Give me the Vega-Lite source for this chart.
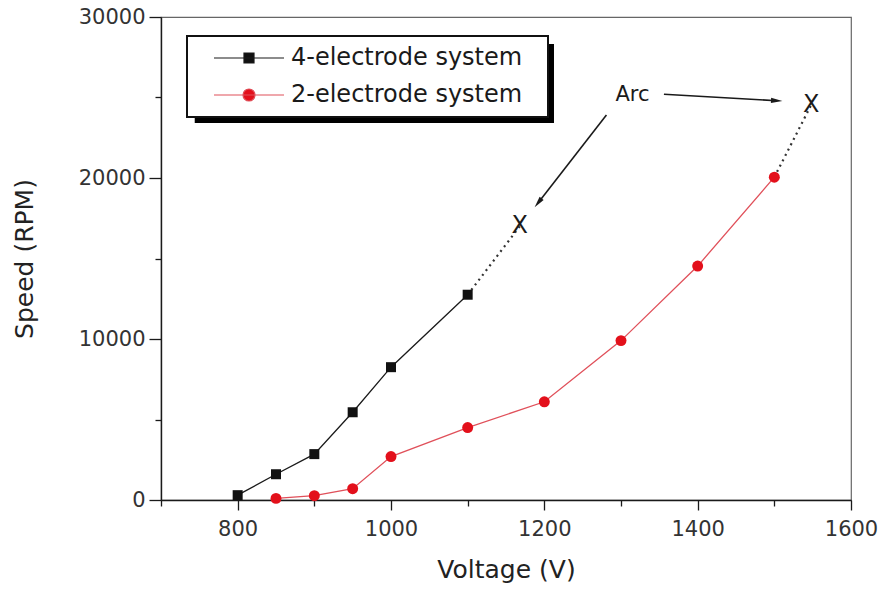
{
  "$schema": "https://vega.github.io/schema/vega-lite/v6.json",
  "width": 690,
  "height": 483,
  "autosize": {"type": "none"},
  "padding": {"left": 161, "top": 17, "right": 35, "bottom": 92},
  "background": "white",
  "config": {
    "font": "DejaVu Sans",
    "view": {"stroke": "#666666", "strokeWidth": 1.2},
    "axis": {
      "grid": false,
      "domainColor": "#1a1a1a",
      "domainWidth": 1.4,
      "tickColor": "#1a1a1a",
      "tickWidth": 1.3,
      "labelFont": "DejaVu Sans",
      "labelFontSize": 21,
      "labelColor": "#333333",
      "titleFont": "DejaVu Sans",
      "titleFontSize": 25,
      "titleFontWeight": "normal",
      "titleColor": "#222222"
    },
    "legend": {
      "orient": "none",
      "legendX": 26,
      "legendY": 19,
      "zindex": 2,
      "fillColor": "white",
      "strokeColor": "#111111",
      "strokeWidth": 2,
      "padding": 10,
      "labelFont": "DejaVu Sans",
      "labelFontSize": 24,
      "labelColor": "#1a1a1a",
      "labelLimit": 400,
      "symbolSize": 100,
      "symbolStrokeWidth": 1.2,
      "symbolOpacity": 1,
      "symbolOffset": 40,
      "labelOffset": 30,
      "rowPadding": 13
    }
  },
  "datasets": {
    "runs": [
      {"system": "4-electrode system", "voltage": 800, "speed": 300},
      {"system": "4-electrode system", "voltage": 850, "speed": 1600},
      {"system": "4-electrode system", "voltage": 900, "speed": 2850},
      {"system": "4-electrode system", "voltage": 950, "speed": 5450},
      {"system": "4-electrode system", "voltage": 1000, "speed": 8250},
      {"system": "4-electrode system", "voltage": 1100, "speed": 12750},
      {"system": "2-electrode system", "voltage": 850, "speed": 100},
      {"system": "2-electrode system", "voltage": 900, "speed": 270},
      {"system": "2-electrode system", "voltage": 950, "speed": 700},
      {"system": "2-electrode system", "voltage": 1000, "speed": 2700},
      {"system": "2-electrode system", "voltage": 1100, "speed": 4500},
      {"system": "2-electrode system", "voltage": 1200, "speed": 6100},
      {"system": "2-electrode system", "voltage": 1300, "speed": 9900},
      {"system": "2-electrode system", "voltage": 1400, "speed": 14530},
      {"system": "2-electrode system", "voltage": 1500, "speed": 20050}
    ],
    "breakdown": [
      {"system": "4-electrode system", "voltage": 1100, "speed": 12750, "point": "last reading"},
      {"system": "4-electrode system", "voltage": 1168, "speed": 17000, "point": "arc"},
      {"system": "2-electrode system", "voltage": 1500, "speed": 20050, "point": "last reading"},
      {"system": "2-electrode system", "voltage": 1548, "speed": 24530, "point": "arc"}
    ]
  },
  "layer": [
    {
      "description": "drop shadow behind the key box",
      "data": {"values": [{}]},
      "mark": {"type": "rect", "fill": "#000000"},
      "encoding": {
        "x": {"datum": 744, "type": "quantitative"},
        "x2": {"datum": 1212.6},
        "y": {"datum": 28323, "type": "quantitative"},
        "y2": {"datum": 23416}
      }
    },
    {
      "data": {"name": "runs"},
      "mark": {"type": "line", "strokeWidth": 1.3},
      "encoding": {
        "x": {
          "field": "voltage",
          "type": "quantitative",
          "scale": {"domain": [700, 1600], "nice": false, "zero": false},
          "axis": {
            "title": "Voltage (V)",
            "values": [700, 800, 900, 1000, 1100, 1200, 1300, 1400, 1500, 1600],
            "format": "d",
            "labelExpr": "datum.value % 200 === 0 ? datum.label : ''",
            "labelFlush": false,
            "labelOverlap": false,
            "tickSize": {"condition": {"test": "datum.value % 200 === 0", "value": 10}, "value": 6},
            "labelPadding": 8,
            "titlePadding": 18
          }
        },
        "y": {
          "field": "speed",
          "type": "quantitative",
          "scale": {"domain": [0, 30000], "nice": false},
          "axis": {
            "title": "Speed (RPM)",
            "values": [0, 5000, 10000, 15000, 20000, 25000, 30000],
            "format": "d",
            "labelExpr": "datum.value % 10000 === 0 ? datum.label : ''",
            "labelFlush": false,
            "labelOverlap": false,
            "tickSize": {"condition": {"test": "datum.value % 10000 === 0", "value": 12}, "value": 6},
            "labelPadding": 4,
            "titlePadding": 41
          }
        },
        "stroke": {
          "field": "system",
          "type": "nominal",
          "scale": {"domain": ["4-electrode system", "2-electrode system"], "range": ["#1a1a1a", "#e0505a"]},
          "legend": {"title": null}
        },
        "detail": {"field": "system"}
      }
    },
    {
      "data": {"name": "breakdown"},
      "mark": {"type": "line", "stroke": "#333333", "strokeWidth": 2.2, "strokeDash": [2, 4]},
      "encoding": {
        "x": {"field": "voltage", "type": "quantitative"},
        "y": {"field": "speed", "type": "quantitative"},
        "detail": {"field": "system"}
      }
    },
    {
      "description": "key symbols: line through the marker; this layer itself is not visible",
      "data": {"name": "runs"},
      "mark": {"type": "point", "filled": true, "opacity": 0},
      "encoding": {
        "x": {"field": "voltage", "type": "quantitative"},
        "y": {"field": "speed", "type": "quantitative"},
        "shape": {
          "field": "system",
          "type": "nominal",
          "scale": {
            "domain": ["4-electrode system", "2-electrode system"],
            "range": [
              "M-7,0H7M-1,-1H1V1H-1ZM57.2,0H57.21",
              "M-7,0H7M-1.2,0A1.2,1.2 0 1,1 1.2,0A1.2,1.2 0 1,1 -1.2,0ZM57.2,0H57.21"
            ]
          },
          "legend": {"title": null}
        },
        "fill": {
          "field": "system",
          "type": "nominal",
          "scale": {"domain": ["4-electrode system", "2-electrode system"], "range": ["#111111", "#e3101b"]},
          "legend": {"title": null}
        }
      }
    },
    {
      "data": {"name": "runs"},
      "transform": [{"filter": "datum.system === '4-electrode system'"}],
      "mark": {"type": "point", "filled": true, "opacity": 1, "shape": "square", "size": 100},
      "encoding": {
        "x": {"field": "voltage", "type": "quantitative"},
        "y": {"field": "speed", "type": "quantitative"},
        "fill": {"field": "system", "type": "nominal", "legend": {"title": null}}
      }
    },
    {
      "data": {"name": "runs"},
      "transform": [{"filter": "datum.system === '2-electrode system'"}],
      "mark": {"type": "point", "filled": true, "opacity": 1, "shape": "circle", "size": 120},
      "encoding": {
        "x": {"field": "voltage", "type": "quantitative"},
        "y": {"field": "speed", "type": "quantitative"},
        "fill": {"field": "system", "type": "nominal", "legend": {"title": null}}
      }
    },
    {
      "data": {"name": "breakdown"},
      "transform": [{"filter": "datum.point === 'arc'"}],
      "mark": {"type": "text", "text": "X", "fontSize": 24, "font": "DejaVu Sans", "color": "#1a1a1a", "align": "center", "baseline": "middle"},
      "encoding": {
        "x": {"field": "voltage", "type": "quantitative"},
        "y": {"field": "speed", "type": "quantitative"}
      }
    },
    {
      "data": {"values": [{}]},
      "mark": {"type": "text", "text": "Arc", "fontSize": 21, "font": "DejaVu Sans", "color": "#1a1a1a", "align": "center", "baseline": "middle"},
      "encoding": {
        "x": {"datum": 1315, "type": "quantitative"},
        "y": {"datum": 25160, "type": "quantitative"}
      }
    },
    {
      "description": "arrow from the label to the 2-electrode arc",
      "data": {"values": [{}]},
      "mark": {"type": "rule", "stroke": "#1a1a1a", "strokeWidth": 1.6},
      "encoding": {
        "x": {"datum": 1356, "type": "quantitative"},
        "x2": {"datum": 1503},
        "y": {"datum": 25199, "type": "quantitative"},
        "y2": {"datum": 24801}
      }
    },
    {
      "data": {"values": [{}]},
      "mark": {"type": "point", "filled": true, "opacity": 1, "fill": "#1a1a1a", "strokeWidth": 0, "size": 130, "angle": 3.3, "shape": "M1,0L-1,-0.45L-1,0.45Z"},
      "encoding": {
        "x": {"datum": 1503.1, "type": "quantitative"},
        "y": {"datum": 24801, "type": "quantitative"}
      }
    },
    {
      "description": "arrow from the label to the 4-electrode arc",
      "data": {"values": [{}]},
      "mark": {"type": "rule", "stroke": "#1a1a1a", "strokeWidth": 1.6},
      "encoding": {
        "x": {"datum": 1281, "type": "quantitative"},
        "x2": {"datum": 1192},
        "y": {"datum": 23913, "type": "quantitative"},
        "y2": {"datum": 18460}
      }
    },
    {
      "data": {"values": [{}]},
      "mark": {"type": "point", "filled": true, "opacity": 1, "fill": "#1a1a1a", "strokeWidth": 0, "size": 130, "angle": 128, "shape": "M1,0L-1,-0.45L-1,0.45Z"},
      "encoding": {
        "x": {"datum": 1191.9, "type": "quantitative"},
        "y": {"datum": 18460, "type": "quantitative"}
      }
    }
  ]
}
